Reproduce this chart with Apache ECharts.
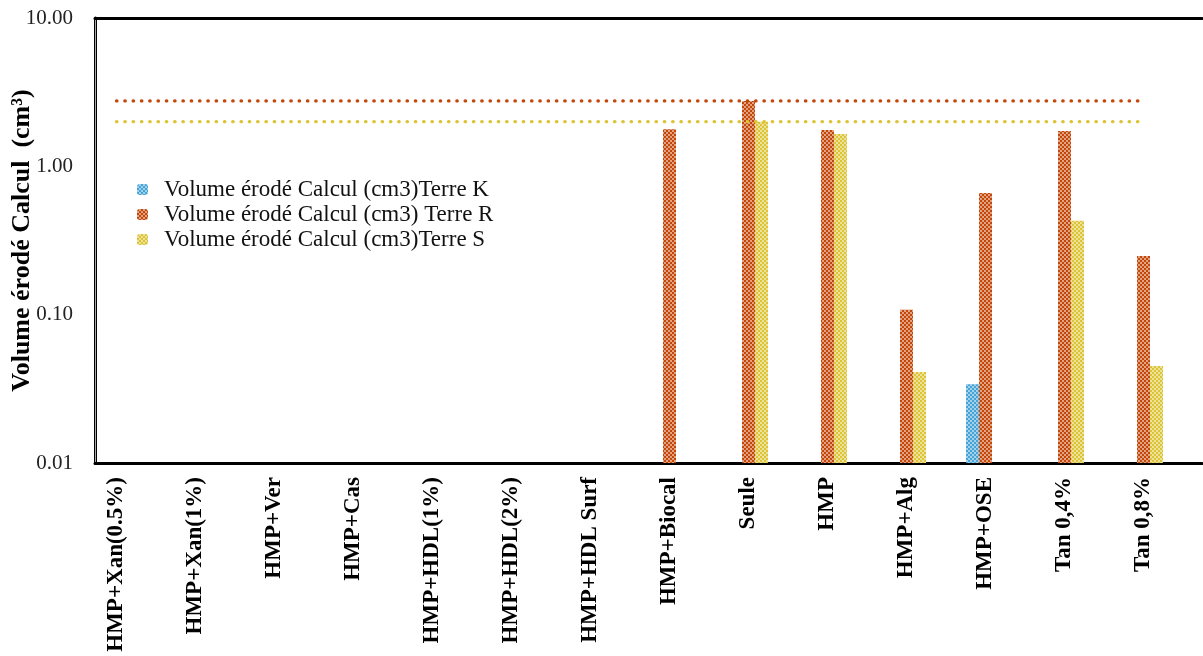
<!DOCTYPE html>
<html>
<head>
<meta charset="utf-8">
<script src="https://cdn.jsdelivr.net/npm/echarts@6/dist/echarts.min.js"></script>
<style>html,body{margin:0;padding:0;background:#fff;}#c{width:1203px;height:656px;}</style>
</head>
<body>
<div id="c"></div>
<script>
const categories = ['HMP+Xan(0.5%)','HMP+Xan(1%)','HMP+Ver','HMP+Cas','HMP+HDL(1%)','HMP+HDL(2%)','HMP+HDL Surf','HMP+Biocal','Seule','HMP','HMP+Alg','HMP+OSE','Tan 0,4%','Tan 0,8%'];
const terreK = [null,null,null,null,null,null,null,null,null,null,null,0.034,null,null];
const terreR = [null,null,null,null,null,null,null,1.78,2.76,1.76,0.108,0.66,1.73,0.249];
const terreS = [null,null,null,null,null,null,null,null,2.0,1.65,0.041,null,0.43,0.045];
const refR = [2.76,2.76,2.76,2.76,2.76,2.76,2.76,2.76,2.76,2.76,2.76,2.76,2.76,2.76];
const refS = [2.0,2.0,2.0,2.0,2.0,2.0,2.0,2.0,2.0,2.0,2.0,2.0,2.0,2.0];
const yTicks = [0.01, 0.1, 1, 10];
const names = ['Volume érodé Calcul (cm3)Terre K','Volume érodé Calcul (cm3) Terre R','Volume érodé Calcul (cm3)Terre S'];
const colors = ['#45a3d6','#c4470a','#dcc437'];

const serif = '"Liberation Serif", "DejaVu Serif", serif';
const decal = {
  symbol: 'rect', symbolSize: 1, color: 'rgba(255,255,255,0.5)',
  dashArrayX: [[2,2],[0,2,2,0]], dashArrayY: [2,0], rotation: 0
};
function bar(i, data) {
  return {
    name: names[i], type: 'bar', data: data, xAxisIndex: 2, yAxisIndex: 2,
    barWidth: 13, barGap: '0%',
    itemStyle: { color: colors[i], decal: decal }
  };
}
function refLine(color, data) {
  return {
    type: 'line', data: data, xAxisIndex: 2, yAxisIndex: 2, symbol: 'none', silent: true,
    lineStyle: { color: color, width: 3.2, type: [0.5, 7.8], cap: 'round' }
  };
}
const chart = echarts.init(document.getElementById('c'));
chart.setOption({
  animation: false,
  backgroundColor: '#fff',
  grid: [
    { left: 95, top: 18, right: 1, bottom: 193, containLabel: false, outerBoundsMode: 'none' },
    { left: 77, top: 18, width: 1106, bottom: 193, containLabel: false, outerBoundsMode: 'none' }
  ],
  legend: {
    data: names, orient: 'vertical', left: 137, top: 178, padding: 0,
    itemWidth: 11, itemHeight: 11, itemGap: 2,
    textStyle: { fontFamily: serif, fontSize: 23, color: '#111', padding: [0, 0, 0, 11] }
  },
  xAxis: [
    { gridIndex: 0, type: 'value', min: 0, max: 1, position: 'bottom', axisLine: { show: true, lineStyle: { color: '#000', width: 3 } }, axisTick: { show: false }, axisLabel: { show: false }, splitLine: { show: false } },
    { gridIndex: 0, type: 'value', min: 0, max: 1, position: 'top', axisLine: { show: true, lineStyle: { color: '#000', width: 3 } }, axisTick: { show: false }, axisLabel: { show: false }, splitLine: { show: false } },
    { gridIndex: 1, type: 'category', data: categories, axisLine: { show: false }, axisTick: { show: false }, splitLine: { show: false },
      axisLabel: { rotate: 90, interval: 0, margin: 14, fontFamily: serif, fontSize: 23, fontWeight: 'bold', color: '#000' } }
  ],
  yAxis: [
    { gridIndex: 0, type: 'log', logBase: 10, min: 0.01, max: 10, position: 'left',
      axisLine: { show: true, lineStyle: { color: '#000', width: 3 } }, axisTick: { show: false }, splitLine: { show: false },
      axisLabel: { margin: 22, fontFamily: serif, fontSize: 21, color: '#222', formatter: v => v.toFixed(2),
        customValues: yTicks },
      name: 'Volume érodé Calcul  (cm³)', nameLocation: 'middle', nameGap: 60, nameMoveOverlap: false,
      nameTextStyle: { fontFamily: serif, fontSize: 26, fontWeight: 'bold', color: '#000' } },
    { gridIndex: 0, type: 'log', logBase: 10, min: 0.01, max: 10, position: 'right',
      axisLine: { show: true, lineStyle: { color: '#aaa', width: 1 } }, axisTick: { show: false }, axisLabel: { show: false }, splitLine: { show: false } },
    { gridIndex: 1, type: 'log', logBase: 10, min: 0.01, max: 10, startValue: 0.01, show: false, splitLine: { show: false } }
  ],
  series: [
    bar(0, terreK), bar(1, terreR), bar(2, terreS),
    refLine(colors[1], refR), refLine(colors[2], refS)
  ]
});
</script>
</body>
</html>
